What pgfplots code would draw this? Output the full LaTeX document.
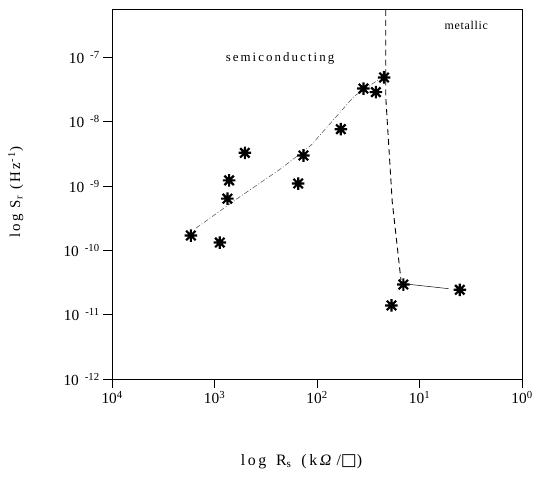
\documentclass[border=0pt]{standalone}
\usepackage{fontspec}
\setmainfont{Liberation Serif}
\newfontfamily\sym{DejaVu Sans}
\newfontfamily\wide[LetterSpace=16]{Liberation Serif}
\newfontfamily\semiwide[LetterSpace=6]{Liberation Serif}
\usepackage{pgfplots}
\pgfplotsset{compat=1.18}

% eight-spoke star like the scanned marker
\pgfdeclareplotmark{star8}{%
  \pgfpathmoveto{\pgfqpoint{0pt}{\pgfplotmarksize}}\pgfpathlineto{\pgfqpoint{0pt}{-\pgfplotmarksize}}%
  \pgfpathmoveto{\pgfqpoint{\pgfplotmarksize}{0pt}}\pgfpathlineto{\pgfqpoint{-\pgfplotmarksize}{0pt}}%
  \pgfpathmoveto{\pgfqpoint{.75\pgfplotmarksize}{.75\pgfplotmarksize}}\pgfpathlineto{\pgfqpoint{-.75\pgfplotmarksize}{-.75\pgfplotmarksize}}%
  \pgfpathmoveto{\pgfqpoint{.75\pgfplotmarksize}{-.75\pgfplotmarksize}}\pgfpathlineto{\pgfqpoint{-.75\pgfplotmarksize}{.75\pgfplotmarksize}}%
  \pgfusepathqstroke}

\newcommand\yt[1]{10\hspace{6pt}\textsuperscript{-#1}}
\newcommand\xt[1]{10\textsuperscript{#1}}

\begin{document}
\begin{tikzpicture}
\path (-113pt,-99pt) rectangle (423pt,382pt);
\begin{axis}[anchor=south west,at={(0pt,0pt)},
scale only axis,width=413pt,height=372pt,
xmode=log,ymode=log,x dir=reverse,
xmin=1,xmax=1e4,ymin=1e-12,ymax=5.5e-7,
axis line style={line width=1.1pt},
tick align=outside,major tick length=9pt,tick style={line width=0.9pt,black},
xtick pos=bottom,ytick pos=left,xminorticks=false,yminorticks=false,
xtick={1,10,100,1000,10000},
xticklabels={\xt{0},\xt{1},\xt{2},\xt{3},\xt{4}},
ytick={1e-12,1e-11,1e-10,1e-9,1e-8,1e-7},
yticklabels={\yt{12},\yt{11},\yt{10},\yt{9},\yt{8},\yt{7}},
ticklabel style={font=\fontsize{15.5}{17}\selectfont},
xlabel={log\hspace{10pt}R\textsubscript{s}\hspace{10pt}(k\,\textit{Ω}\,/{\sym\fontsize{17}{17}\selectfont □})},
ylabel={log\hspace{6pt}S\textsubscript{r}\hspace{6pt}(Hz\textsuperscript{-1})},
xlabel style={font=\wide\fontsize{16}{17}\selectfont,at={(axis description cs:0.462,-0.223)},anchor=center},
ylabel style={font=\wide\fontsize{15}{17}\selectfont,at={(axis description cs:-0.235,0.506)},anchor=center},
clip=false]
% fitted trend, semiconducting side
\addplot[black!70,line width=0.5pt,dash pattern=on 5pt off 2pt on 1pt off 2pt] coordinates {
(1525,2.22e-10) (603,6.4e-10) (226,1.87e-9) (115,4.3e-9) (43.5,2.5e-8) (24.8,4.6e-8)};
% boundary
\addplot[black,line width=0.9pt,dash pattern=on 6pt off 4pt] coordinates {
(21.4,5.5e-7) (21.4,2.5e-8) (18.5,5.8e-10) (15.2,3.5e-11)};
\addplot[black,line width=0.5pt] coordinates {(13.2,3.0e-11) (5.2,2.55e-11)};
% data
\addplot[only marks,mark=star8,mark size=6.3pt,line width=2.2pt,black] coordinates {
(1706,1.71e-10) (890,1.33e-10) (750,6.4e-10) (722,1.23e-9) (507,3.3e-9)
(153,1.1e-9) (136,3.0e-9) (58.7,7.7e-9) (35.3,3.3e-8) (26.7,2.9e-8)
(22.2,4.9e-8) (14.4,2.96e-11) (18.8,1.4e-11) (4.05,2.45e-11)};
\node[font=\wide\fontsize{13}{15}\selectfont] at (axis cs:230,9.6e-8) {semiconducting};
\node[font=\semiwide\fontsize{12}{14}\selectfont] at (axis cs:3.5,3.2e-7) {metallic};
\end{axis}
\end{tikzpicture}
\end{document}
